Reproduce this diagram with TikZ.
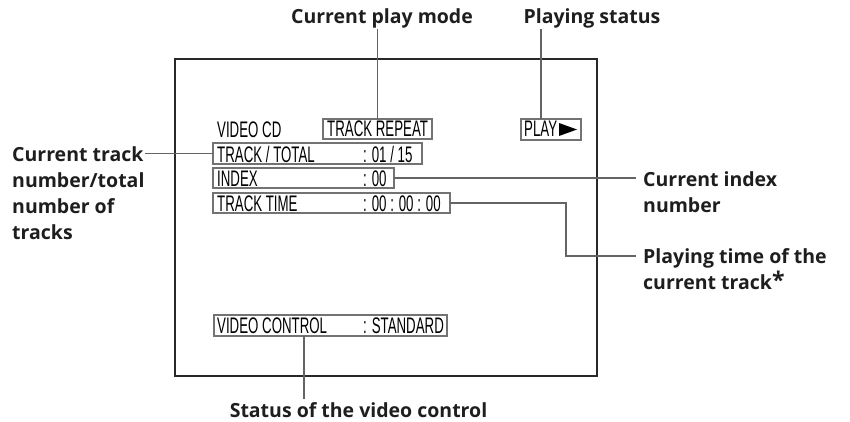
\documentclass[tikz,border=0pt]{standalone}
\usepackage{fontspec}
\setmainfont{Open Sans}
\newfontfamily\scrfont[FakeStretch=0.59]{Liberation Sans}
\definecolor{scrgray}{RGB}{115,115,115}
\definecolor{conncol}{RGB}{100,100,100}
\definecolor{framecol}{RGB}{40,40,40}
\definecolor{labcol}{RGB}{30,30,30}
\begin{document}
\begin{tikzpicture}[x=1pt,y=-1pt,
  scr/.style={draw=scrgray, line width=1.7pt, inner sep=0pt, outer sep=0pt, anchor=north west},
  stxt/.style={font=\scrfont\fontsize{22.5}{22.5}\selectfont, inner sep=0pt, anchor=base west},
  lab/.style={font=\bfseries\fontsize{19.5}{26}\selectfont, text=labcol, inner sep=0pt},
  conn/.style={draw=conncol, line width=1.6pt}]
\useasboundingbox (0,0) rectangle (850,422);
% screen frame
\node[draw=framecol, line width=1.6pt, inner sep=0pt, outer sep=0pt, anchor=north west,
  minimum width=422pt, minimum height=317pt] (screen) at (175,59) {};
% on-screen boxes
\node[scr, minimum width=109pt, minimum height=20pt] (rep) at (323,119) {};
\node[scr, minimum width=60pt, minimum height=21pt] (play) at (521,119) {};
\node[scr, minimum width=209pt, minimum height=21pt] (tt) at (213,143) {};
\node[scr, minimum width=181pt, minimum height=20pt] (idx) at (213,168) {};
\node[scr, minimum width=237pt, minimum height=20pt] (tim) at (213,193) {};
\node[scr, minimum width=233pt, minimum height=21pt] (vc) at (214,315) {};
% on-screen texts
\node[stxt] (vcd) at (217,137.5) {VIDEO CD};
\node[stxt] (reptxt) at (327,137) {TRACK REPEAT};
\node[stxt] (playtxt) at (524,137) {PLAY};
\fill (559,123) -- (577,129.5) -- (559,136) -- cycle;
\node[stxt] (tt1) at (217,162) {TRACK / TOTAL};
\node[stxt] (tt2) at (363,162) {: 01 / 15};
\node[stxt] (idx1) at (217,186.5) {INDEX};
\node[stxt] (idx2) at (363,186.5) {: 00};
\node[stxt] (tim1) at (217,211) {TRACK TIME};
\node[stxt] (tim2) at (363,211) {: 00 : 00 : 00};
\node[stxt] (vc1) at (217,333.5) {VIDEO CONTROL};
\node[stxt] (vc2) at (363,333.5) {: STANDARD};
% labels
\node[lab, anchor=base] (mode) at (382,24) {Current play mode};
\node[lab, anchor=base] (stat) at (592,24) {Playing status};
\node[lab, anchor=north west, align=left] (ctrack) at (12,146) {Current track\\number/total\\number of\\tracks};
\node[lab, anchor=north west, align=left] (cidx) at (643,171) {Current index\\number};
\node[lab, anchor=north west, align=left] (ptime) at (643,248) {Playing time of the\\current track\raisebox{1pt}{\fontsize{23}{23}\selectfont *}};
\node[lab, anchor=base] (vstat) at (358.5,417) {Status of the video control};
% connectors
\coordinate (bend) at (566,256);
\draw[conn] (rep.north) -- (rep.north |- mode.south);
\draw[conn] ([xshift=-10pt]play.north) -- ([xshift=-10pt]play.north |- stat.south);
\draw[conn] (tt.west) -- (tt.west -| ctrack.east);
\draw[conn, shorten >=7pt] (idx.east) -- (idx.east -| cidx.west);
\draw[conn, shorten >=7pt] (tim.east) -| (bend) -- (bend -| ptime.west);
\draw[conn, shorten >=3pt] ([xshift=-26.5pt]vc.south) -- ([xshift=-26.5pt]vc.south |- vstat.north);
\end{tikzpicture}
\end{document}
